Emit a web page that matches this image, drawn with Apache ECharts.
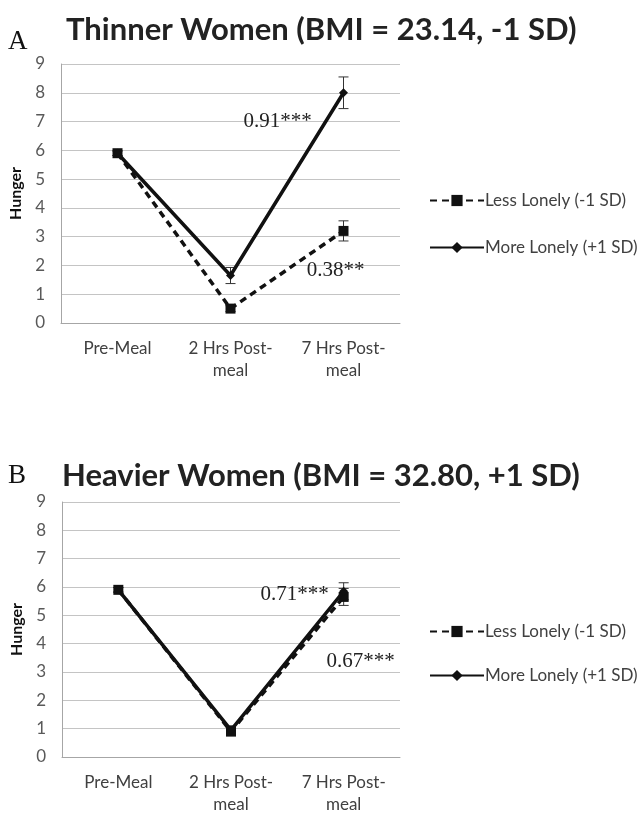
<!DOCTYPE html>
<html><head><meta charset="utf-8">
<script src="https://cdn.jsdelivr.net/npm/echarts@6/dist/echarts.min.js"></script>
<style>html,body{margin:0;padding:0;background:#fff}#c{width:643px;height:816px}</style>
</head><body><div id="c"></div>
<script>
const categories = ['Pre-Meal', '2 Hrs Post-\nmeal', '7 Hrs Post-\nmeal'];
const yTicks = [0,1,2,3,4,5,6,7,8,9];
const seriesNames = ['Less Lonely (-1 SD)', 'More Lonely (+1 SD)'];
// Panel A: thinner women
const aLess = [5.9, 0.5, 3.2];
const aMore = [5.9, 1.65, 8.0];
const aLessErr = [0.08, 0.1, 0.35];
const aMoreErr = [0.08, 0.28, 0.55];
// Panel B: heavier women
const bLess = [5.9, 0.9, 5.65];
const bMore = [5.9, 0.95, 5.85];
const bLessErr = [0.08, 0.15, 0.3];
const bMoreErr = [0.08, 0.15, 0.3];
const titles = ['Thinner Women (BMI = 23.14, -1 SD)', 'Heavier Women (BMI = 32.80, +1 SD)'];
const panelLetters = ['A', 'B'];
// annotations: [panel, category index, value, text, offsetX]
const annotations = [
  [0, 2, 7.0, '0.91***', -66],
  [0, 2, 1.84, '0.38**', -8],
  [1, 2, 5.75, '0.71***', -49],
  [1, 2, 3.38, '0.67***', 17]
];

const grids = [
  {left: 61, top: 64, width: 339, height: 259},
  {left: 62, top: 502, width: 338, height: 258}
];

function errData(vals, errs) {
  return vals.map((v, i) => [i, v - errs[i], v + errs[i]]);
}
function errSeries(idx, vals, errs) {
  return {
    type: 'custom', xAxisIndex: idx, yAxisIndex: idx, silent: true, z: 1,
    data: errData(vals, errs),
    renderItem: function (params, api) {
      const lo = api.coord([api.value(0), api.value(1)]);
      const hi = api.coord([api.value(0), api.value(2)]);
      const w = 5;
      const st = {stroke: '#333', lineWidth: 1};
      return {type: 'group', children: [
        {type: 'line', shape: {x1: lo[0], y1: lo[1], x2: hi[0], y2: hi[1]}, style: st},
        {type: 'line', shape: {x1: lo[0]-w, y1: lo[1], x2: lo[0]+w, y2: lo[1]}, style: st},
        {type: 'line', shape: {x1: hi[0]-w, y1: hi[1], x2: hi[0]+w, y2: hi[1]}, style: st}
      ]};
    }
  };
}
function markFor(panel) {
  return {
    symbol: 'circle', symbolSize: 0, silent: true,
    label: {show: true, position: 'inside', color: '#222', fontFamily: 'Liberation Serif', fontSize: 21},
    data: annotations.filter(a => a[0] === panel).map(a => ({
      coord: [a[1], a[2]], value: a[3],
      label: {formatter: a[3], offset: [a[4], 0]}
    }))
  };
}
function lineSeries(idx, name, vals, dashed) {
  return {
    type: 'line', name: name, xAxisIndex: idx, yAxisIndex: idx, z: dashed ? 3 : 4,
    data: vals,
    symbol: dashed ? 'rect' : 'diamond',
    symbolSize: dashed ? 10 : 9,
    showAllSymbol: true,
    lineStyle: {color: '#111', width: 3.5, type: dashed ? [7, 5] : 'solid'},
    itemStyle: {color: '#111'},
    markPoint: dashed ? markFor(idx) : undefined
  };
}

const xAxes = grids.map((g, i) => ({
  type: 'category', gridIndex: i, data: categories, boundaryGap: true,
  axisLine: {lineStyle: {color: '#a6a6a6', width: 1}},
  axisTick: {show: false},
  axisLabel: {color: '#404040', fontFamily: 'Lato', fontSize: 17, lineHeight: 22, margin: 15, interval: 0}
}));
const yAxes = grids.map((g, i) => ({
  type: 'value', gridIndex: i, min: yTicks[0], max: yTicks[yTicks.length - 1], interval: 1,
  name: 'Hunger', nameLocation: 'middle', nameRotate: 90, nameGap: 36,
  nameTextStyle: {color: '#111', fontFamily: 'Lato', fontWeight: 'bold', fontSize: 16},
  axisLine: {show: true, lineStyle: {color: '#a6a6a6'}},
  axisTick: {show: false},
  axisLabel: {color: '#595959', fontFamily: 'Lato', fontSize: 17, margin: 16},
  splitLine: {lineStyle: {color: '#c4c4c4', width: 1}}
}));

const option = {
  animation: false,
  backgroundColor: '#fff',
  title: [
    {text: titles[0], left: 66, top: 14, padding: 0, textStyle: {fontFamily: 'Lato', fontWeight: 'bold', fontSize: 31, color: '#222'}},
    {text: titles[1], left: 62, top: 460, padding: 0, textStyle: {fontFamily: 'Lato', fontWeight: 'bold', fontSize: 31, color: '#222'}},
    {text: panelLetters[0], left: 8, top: 28, padding: 0, textStyle: {fontFamily: 'Liberation Serif', fontWeight: 'normal', fontSize: 27, color: '#111'}},
    {text: panelLetters[1], left: 8, top: 462, padding: 0, textStyle: {fontFamily: 'Liberation Serif', fontWeight: 'normal', fontSize: 27, color: '#111'}}
  ],
  legend: [
    {data: seriesNames, orient: 'vertical', left: 429, top: 192, padding: 0, itemWidth: 54, itemHeight: 14, itemGap: 30,
     textStyle: {color: '#404040', fontFamily: 'Lato', fontSize: 17, padding: [0, 0, 0, -4]}, selectedMode: false},
    {data: seriesNames, orient: 'vertical', left: 429, top: 623, padding: 0, itemWidth: 54, itemHeight: 14, itemGap: 27,
     textStyle: {color: '#404040', fontFamily: 'Lato', fontSize: 17, padding: [0, 0, 0, -4]}, selectedMode: false}
  ],
  grid: grids,
  xAxis: xAxes,
  yAxis: yAxes,
  series: [
    errSeries(0, aLess, aLessErr),
    errSeries(0, aMore, aMoreErr),
    lineSeries(0, seriesNames[0], aLess, true),
    lineSeries(0, seriesNames[1], aMore, false),
    errSeries(1, bLess, bLessErr),
    errSeries(1, bMore, bMoreErr),
    lineSeries(1, seriesNames[0], bLess, true),
    lineSeries(1, seriesNames[1], bMore, false)
  ]
};
echarts.init(document.getElementById('c'), null, {renderer: 'canvas'}).setOption(option);
</script></body></html>
